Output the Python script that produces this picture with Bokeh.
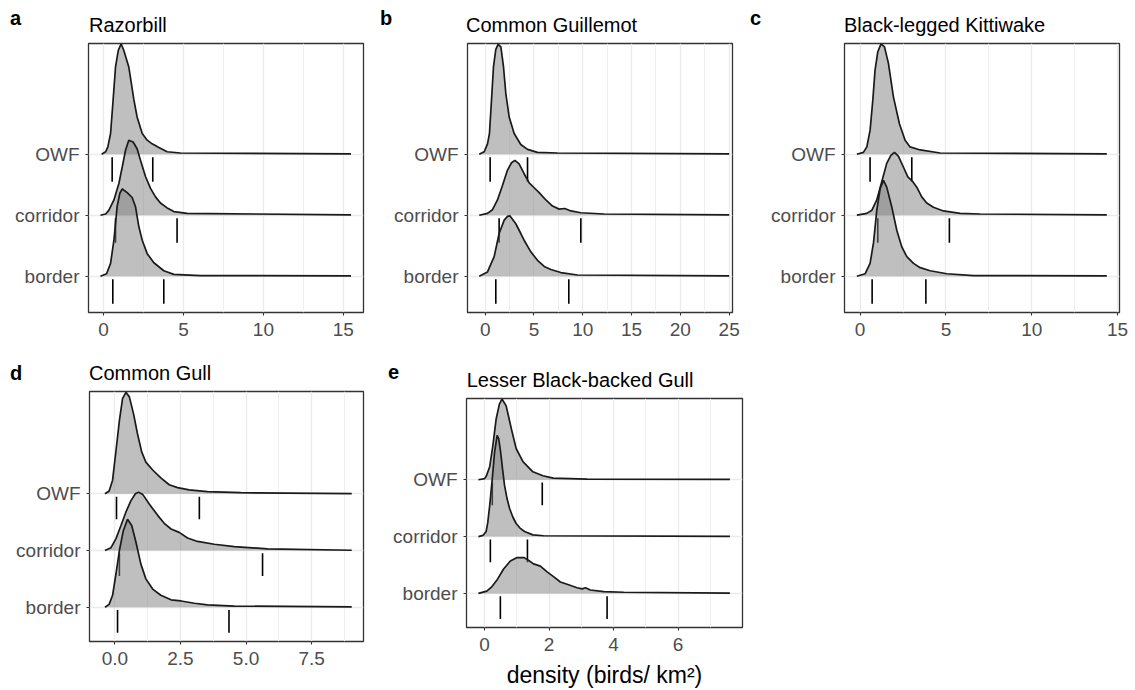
from bokeh.plotting import figure
from bokeh.layouts import row, column
from bokeh.models import FixedTicker, Div
from bokeh.embed import file_html
from bokeh.resources import INLINE

# ---------------- data ----------------
CATEGORIES = ["border", "corridor", "OWF"]          # y positions 1, 2, 3

# a  Razorbill
ra_owf_x = [-0.12, 0.13, 0.27, 0.44, 0.60, 0.75, 0.92, 1.10, 1.27, 1.58, 1.90, 2.10, 2.42, 2.73, 3.04, 3.46, 3.98, 4.81, 15.48]
ra_owf_h = [0, 0.04, 0.12, 0.34, 0.89, 1.43, 1.70, 1.81, 1.70, 1.43, 0.89, 0.61, 0.34, 0.23, 0.17, 0.11, 0.04, 0.02, 0.005]
ra_cor_x = [-0.19, 0.13, 0.33, 0.65, 0.96, 1.17, 1.38, 1.58, 1.85, 2.10, 2.31, 2.63, 2.94, 3.25, 3.56, 3.98, 4.40, 5.23, 15.48]
ra_cor_h = [0, 0.02, 0.08, 0.25, 0.52, 0.79, 1.07, 1.23, 1.20, 1.09, 0.90, 0.63, 0.44, 0.30, 0.20, 0.12, 0.06, 0.03, 0.005]
ra_bor_x = [-0.19, 0.19, 0.44, 0.65, 0.85, 1.02, 1.17, 1.48, 1.79, 2.00, 2.21, 2.42, 2.73, 3.15, 3.77, 4.40, 6.06, 15.48]
ra_bor_h = [0, 0.04, 0.21, 0.59, 1.14, 1.36, 1.43, 1.37, 1.29, 1.14, 0.81, 0.59, 0.37, 0.22, 0.09, 0.03, 0.01, 0.005]
ra_lo = [0.58, 0.75, 0.54]
ra_hi = [3.77, 4.60, 3.08]

# b  Common Guillemot
gu_owf_x = [-0.61, -0.10, 0.24, 0.44, 0.65, 0.85, 1.09, 1.33, 1.61, 1.88, 2.12, 2.46, 2.97, 3.65, 4.34, 5.36, 7.41, 25.0]
gu_owf_h = [0, 0.04, 0.17, 0.34, 0.89, 1.43, 1.72, 1.80, 1.76, 1.43, 0.99, 0.61, 0.34, 0.16, 0.08, 0.03, 0.02, 0.005]
gu_cor_x = [-0.61, 0.24, 0.75, 1.26, 1.78, 2.29, 2.70, 3.04, 3.48, 3.99, 4.51, 5.02, 5.53, 6.22, 6.90, 7.58, 8.16, 8.78, 9.80, 12.19, 25.0]
gu_cor_h = [0, 0.03, 0.09, 0.25, 0.49, 0.74, 0.86, 0.90, 0.84, 0.68, 0.53, 0.45, 0.37, 0.25, 0.15, 0.10, 0.11, 0.07, 0.04, 0.02, 0.005]
gu_bor_x = [-0.61, 0.24, 0.92, 1.43, 1.95, 2.29, 2.53, 3.14, 3.65, 3.99, 4.68, 5.36, 6.05, 6.73, 7.75, 9.46, 25.0]
gu_bor_h = [0, 0.07, 0.32, 0.70, 0.92, 0.98, 0.99, 0.86, 0.70, 0.59, 0.40, 0.26, 0.16, 0.11, 0.06, 0.02, 0.005]
gu_lo = [1.09, 1.43, 0.51]
gu_hi = [8.57, 9.80, 4.34]

# c  Black-legged Kittiwake
ki_owf_x = [-0.19, 0.19, 0.39, 0.58, 0.74, 0.87, 1.03, 1.22, 1.42, 1.65, 1.94, 2.29, 2.62, 2.91, 3.50, 4.66, 14.37]
ki_owf_h = [0, 0.03, 0.12, 0.39, 0.89, 1.38, 1.68, 1.81, 1.76, 1.49, 0.94, 0.50, 0.23, 0.12, 0.07, 0.02, 0.005]
ki_cor_x = [-0.19, 0.39, 0.68, 0.97, 1.26, 1.55, 1.79, 2.00, 2.23, 2.52, 2.78, 3.07, 3.30, 3.59, 3.88, 4.27, 4.85, 5.83, 6.99, 14.37]
ki_cor_h = [0, 0.03, 0.08, 0.25, 0.55, 0.85, 0.98, 1.03, 0.97, 0.79, 0.63, 0.55, 0.46, 0.30, 0.20, 0.13, 0.07, 0.03, 0.02, 0.005]
ki_bor_x = [-0.19, 0.29, 0.58, 0.78, 0.97, 1.17, 1.36, 1.55, 1.84, 2.14, 2.43, 2.72, 3.11, 3.50, 4.08, 5.05, 6.60, 14.37]
ki_bor_h = [0, 0.04, 0.21, 0.55, 1.08, 1.44, 1.57, 1.46, 1.14, 0.75, 0.48, 0.32, 0.21, 0.14, 0.09, 0.04, 0.01, 0.005]
ki_lo = [0.70, 1.03, 0.58]
ki_hi = [3.83, 5.20, 3.01]

# d  Common Gull
cg_owf_x = [-0.38, -0.22, -0.09, 0.04, 0.17, 0.29, 0.42, 0.55, 0.71, 0.86, 1.02, 1.18, 1.44, 1.75, 2.07, 2.39, 2.83, 3.53, 4.80, 9.03]
cg_owf_h = [0, 0.05, 0.24, 0.76, 1.29, 1.68, 1.79, 1.71, 1.41, 1.06, 0.74, 0.56, 0.42, 0.28, 0.16, 0.11, 0.07, 0.04, 0.02, 0.005]
cg_cor_x = [-0.38, -0.15, 0.04, 0.23, 0.42, 0.61, 0.78, 0.90, 1.06, 1.31, 1.63, 1.88, 2.14, 2.45, 2.77, 3.15, 3.79, 4.55, 5.82, 9.03]
cg_cor_h = [0, 0.05, 0.21, 0.44, 0.68, 0.88, 1.00, 1.03, 0.99, 0.82, 0.62, 0.48, 0.38, 0.32, 0.22, 0.16, 0.11, 0.07, 0.03, 0.005]
cg_bor_x = [-0.38, -0.22, -0.09, 0.04, 0.17, 0.32, 0.48, 0.64, 0.80, 0.99, 1.18, 1.44, 1.75, 2.14, 2.52, 3.03, 3.53, 4.55, 9.03]
cg_bor_h = [0, 0.05, 0.21, 0.59, 1.00, 1.35, 1.55, 1.44, 1.15, 0.76, 0.50, 0.32, 0.21, 0.13, 0.11, 0.07, 0.04, 0.02, 0.005]
cg_lo = [0.10, 0.17, 0.06]
cg_hi = [4.35, 5.63, 3.22]

# e  Lesser Black-backed Gull
lb_owf_x = [-0.19, 0.0, 0.05, 0.16, 0.26, 0.36, 0.46, 0.54, 0.67, 0.75, 0.83, 0.98, 1.19, 1.50, 1.81, 2.13, 3.18, 7.61]
lb_owf_h = [0, 0.02, 0.06, 0.23, 0.61, 1.07, 1.33, 1.42, 1.30, 1.10, 0.90, 0.55, 0.32, 0.14, 0.07, 0.03, 0.01, 0.005]
lb_cor_x = [-0.19, -0.05, 0.05, 0.10, 0.16, 0.24, 0.31, 0.39, 0.44, 0.50, 0.56, 0.62, 0.70, 0.78, 0.88, 0.98, 1.10, 1.24, 1.50, 1.83, 7.61]
lb_cor_h = [0, 0.02, 0.09, 0.25, 0.55, 1.02, 1.48, 1.78, 1.72, 1.48, 1.18, 0.90, 0.66, 0.49, 0.34, 0.23, 0.15, 0.09, 0.03, 0.015, 0.005]
lb_bor_x = [-0.19, 0.07, 0.23, 0.38, 0.59, 0.80, 1.01, 1.23, 1.37, 1.52, 1.73, 1.94, 2.15, 2.35, 2.56, 2.87, 3.03, 3.13, 3.28, 3.70, 4.32, 7.61]
lb_bor_h = [0, 0.04, 0.12, 0.23, 0.43, 0.57, 0.63, 0.63, 0.58, 0.52, 0.48, 0.38, 0.29, 0.20, 0.16, 0.10, 0.08, 0.10, 0.06, 0.03, 0.02, 0.005]
lb_lo = [0.49, 0.18, 0.24]
lb_hi = [3.80, 1.33, 1.79]

# tick labels
ticks_a = [0, 5, 10, 15]
ticks_b = [0, 5, 10, 15, 20, 25]
ticks_c = [0, 5, 10, 15]
ticks_d = [0, 2.5, 5, 7.5]
labels_d = ["0.0", "2.5", "5.0", "7.5"]
ticks_e = [0, 2, 4, 6]
x_title = "density (birds/ km\u00b2)"

# ---------------- drawing ----------------
FONT = "Liberation Sans"


def header(W, H, letter, letter_lt, title, title_lt):
    """Strip above a panel with the panel tag (bold) and the species title."""
    base = ("position:absolute;white-space:nowrap;font-family:'Liberation Sans',Arial,sans-serif;"
            "font-size:20px;line-height:20px;color:#000;margin:0;padding:0;")
    html = (
        f'<div style="position:relative;width:{W}px;height:{H}px;overflow:visible;margin:0;padding:0;">'
        f'<span style="{base}left:{letter_lt[0]}px;top:{letter_lt[1]}px;font-weight:bold;">{letter}</span>'
        f'<span style="{base}left:{title_lt[0]}px;top:{title_lt[1]}px;">{title}</span>'
        '</div>'
    )
    return Div(text=html, width=W, height=H, margin=0)


def panel(curves, lo, hi, ticks, tick_labels, minor, xr, yr,
          W, H, mbl, mbr, mbb, xlabel=None):
    p = figure(width=W, height=H, x_range=xr, y_range=yr,
               output_backend="svg", toolbar_location=None,
               min_border_left=mbl, min_border_right=mbr,
               min_border_top=2, min_border_bottom=mbb)
    p.background_fill_color = "white"
    p.border_fill_color = "white"
    p.outline_line_color = "#333333"
    p.outline_line_width = 1.3

    xt = FixedTicker(ticks=ticks, minor_ticks=minor)
    p.xaxis.ticker = xt
    p.xaxis.major_label_overrides = {t: l for t, l in zip(ticks, tick_labels)}
    p.yaxis.ticker = FixedTicker(ticks=[1, 2, 3])
    p.yaxis.major_label_overrides = {i + 1: c for i, c in enumerate(CATEGORIES)}
    for ax in (p.xaxis[0], p.yaxis[0]):
        ax.axis_line_color = None
        ax.major_tick_line_color = "#333333"
        ax.major_tick_line_width = 1.1
        ax.major_tick_out = 3
        ax.major_tick_in = 0
        ax.minor_tick_line_color = None
        ax.major_label_text_font = FONT
        ax.major_label_text_font_size = "19px"
        ax.major_label_text_color = "#4D4D4D"
    p.xaxis.major_label_standoff = 6
    p.yaxis.major_label_standoff = 6
    if xlabel is not None:
        p.xaxis.axis_label = xlabel
        p.xaxis.axis_label_text_font = FONT
        p.xaxis.axis_label_text_font_size = "23px"
        p.xaxis.axis_label_text_font_style = "normal"
        p.xaxis.axis_label_text_color = "black"
        p.xaxis.axis_label_standoff = 8

    p.xgrid.ticker = xt
    p.xgrid.grid_line_color = "#EBEBEB"
    p.xgrid.grid_line_width = 1.3
    p.xgrid.minor_grid_line_color = "#EFEFEF"
    p.xgrid.minor_grid_line_width = 1.0
    p.ygrid.ticker = FixedTicker(ticks=[1, 2, 3])
    p.ygrid.grid_line_color = "#EBEBEB"
    p.ygrid.grid_line_width = 1.3

    # quantile marks under each ridge
    base = [1, 2, 3]
    p.segment(x0=lo + hi, x1=lo + hi,
              y0=[b - 0.05 for b in base] * 2, y1=[b - 0.45 for b in base] * 2,
              line_color="black", line_width=1.6)

    # ridges, top (OWF) first
    for (cx, ch), b in zip(curves, [3, 2, 1]):
        p.varea(x=cx, y1=[b] * len(cx), y2=[b + h for h in ch],
                fill_color="#7F7F7F", fill_alpha=0.5)
        p.line(x=cx, y=[b + h for h in ch], line_color="#1A1A1A", line_width=1.7)
    return p


# top row: header 41 px, panel 319 px (frame 43..312)
ha = header(372, 41, "a", (10, 8), "Razorbill", (89, 15))
pa = panel([(ra_owf_x, ra_owf_h), (ra_cor_x, ra_cor_h), (ra_bor_x, ra_bor_h)],
           ra_lo, ra_hi, ticks_a, [str(t) for t in ticks_a], [2.5, 7.5, 12.5],
           (-0.94, 16.26), (0.405, 4.815), 372, 319, 88, 9, 48)
hb = header(370, 41, "b", (8, 8), "Common Guillemot", (94, 15))
pb = panel([(gu_owf_x, gu_owf_h), (gu_cor_x, gu_cor_h), (gu_bor_x, gu_bor_h)],
           gu_lo, gu_hi, ticks_b, [str(t) for t in ticks_b], [2.5, 7.5, 12.5, 17.5, 22.5],
           (-1.81, 25.34), (0.405, 4.815), 370, 319, 95, 10, 48)
hc = header(393, 41, "c", (8, 8), "Black-legged Kittiwake", (102, 15))
pc = panel([(ki_owf_x, ki_owf_h), (ki_cor_x, ki_cor_h), (ki_bor_x, ki_bor_h)],
           ki_lo, ki_hi, ticks_c, [str(t) for t in ticks_c], [2.5, 7.5, 12.5],
           (-0.91, 15.11), (0.405, 4.815), 393, 319, 102, 16, 48)

# bottom row
hd = header(372, 29, "d", (10, 3), "Common Gull", (89, 2.5))
pd_ = panel([(cg_owf_x, cg_owf_h), (cg_cor_x, cg_cor_h), (cg_bor_x, cg_bor_h)],
            cg_lo, cg_hi, ticks_d, labels_d, [1.25, 3.75, 6.25, 8.75],
            (-0.97, 9.48), (0.395, 4.805), 372, 301, 89, 9, 49)
he = header(390, 36, "e", (16, 1.5), "Lesser Black-backed Gull", (94.7, 10))
pe = panel([(lb_owf_x, lb_owf_h), (lb_cor_x, lb_cor_h), (lb_bor_x, lb_bor_h)],
           lb_lo, lb_hi, ticks_e, [str(t) for t in ticks_e], [1, 3, 5, 7],
           (-0.56, 8.0), (0.40, 4.43), 390, 294, 94, 20, 61, xlabel=x_title)

layout = column(row(column(ha, pa), column(hb, pb), column(hc, pc)),
                row(column(hd, pd_), column(he, pe)))
open("out.html", "w").write(file_html(layout, INLINE))
